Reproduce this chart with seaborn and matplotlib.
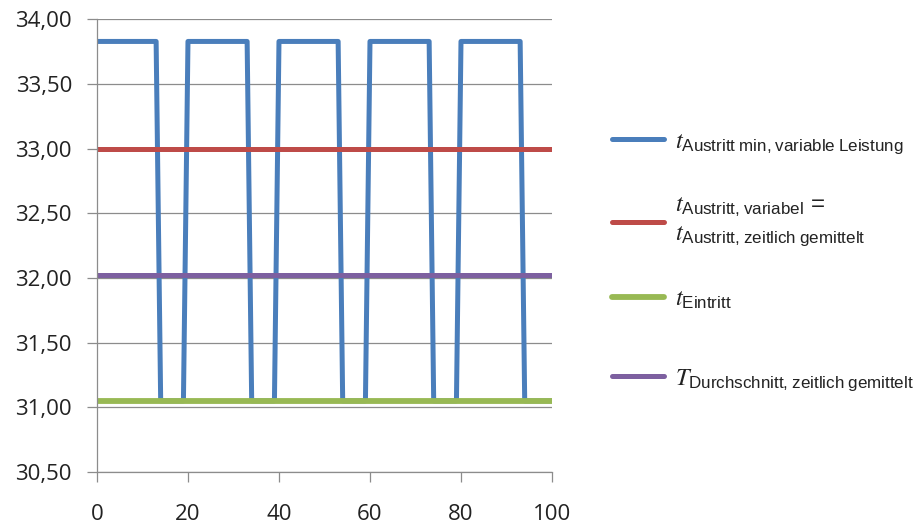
import matplotlib
matplotlib.use("Agg")
import matplotlib.pyplot as plt
import seaborn as sns
import pandas as pd
from matplotlib.font_manager import FontProperties
from matplotlib.offsetbox import TextArea

# ---- data ----
x_blue = [0, 13, 14, 19, 20, 33, 34, 39, 40, 53, 54, 59, 60, 73, 74, 79, 80, 93, 94, 100]
y_blue = [33.83, 33.83, 31.05, 31.05, 33.83, 33.83, 31.05, 31.05, 33.83, 33.83,
          31.05, 31.05, 33.83, 33.83, 31.05, 31.05, 33.83, 33.83, 31.05, 31.05]
x_const = [0, 100]
y_red = [33.00, 33.00]
y_green = [31.05, 31.05]
y_purple = [32.02, 32.02]

x_ticks = [0, 20, 40, 60, 80, 100]
y_ticks = [30.5, 31.0, 31.5, 32.0, 32.5, 33.0, 33.5, 34.0]
y_tick_labels = ["30,50", "31,00", "31,50", "32,00", "32,50", "33,00", "33,50", "34,00"]

labels = [
    r"$t_{\mathregular{Austritt\ min{,}\ variable\ Leistung}}$",
    r"$t_{\mathregular{Austritt{,}\ variabel}}$ =" + "\n" + r"$t_{\mathregular{Austritt{,}\ zeitlich\ gemittelt}}$",
    r"$t_{\mathregular{Eintritt}}$",
    r"$T_{\mathregular{Durchschnitt{,}\ zeitlich\ gemittelt}}$",
]
colors = ["#4A7EBB", "#BE4B48", "#98B954", "#7D60A0"]
widths = [3.6, 3.6, 4.2, 3.6]

series = [
    (x_blue, y_blue),
    (x_const, y_red),
    (x_const, y_green),
    (x_const, y_purple),
]

# ---- style ----
sns.set_theme(style="white")
plt.rcParams["font.family"] = ["Open Sans", "DejaVu Sans"]
plt.rcParams["mathtext.fontset"] = "stix"

fig = plt.figure(figsize=(9.2, 5.26), dpi=100)
ax = fig.add_axes([0.1054, 0.1027, 0.4946, 0.8603])

for (xs, ys), c, lw in zip(series, colors, widths):
    df = pd.DataFrame({"x": xs, "y": ys})
    sns.lineplot(data=df, x="x", y="y", ax=ax, color=c, linewidth=lw,
                 estimator=None, sort=False, legend=False)

ax.set_xlim(0, 100)
ax.set_ylim(30.5, 34.0)
ax.set_xticks(x_ticks)
ax.set_xticklabels([str(v) for v in x_ticks])
ax.set_yticks(y_ticks)
ax.set_yticklabels(y_tick_labels)
ax.set_xlabel("")
ax.set_ylabel("")

grid_c = "#8C8C8C"
ax.yaxis.grid(True, color=grid_c, linewidth=0.9)
ax.xaxis.grid(False)
ax.set_axisbelow(True)
for s in ["top", "right"]:
    ax.spines[s].set_visible(False)
for s in ["left", "bottom"]:
    ax.spines[s].set_color(grid_c)
    ax.spines[s].set_linewidth(0.9)

ax.tick_params(axis="both", which="major", left=True, bottom=True, direction="out",
               length=7, width=0.9, color=grid_c, labelcolor="#222222", labelsize=16)
ax.tick_params(axis="y", pad=11)
ax.tick_params(axis="x", pad=16)

# ---- legend (one entry per block to match spacing) ----
ypos = [0.7281, 0.5780, 0.4297, 0.2776]
handles = ax.get_lines()[:4]
prop = FontProperties(family="Liberation Sans", size=17.5)
for i, (h, lab, yp) in enumerate(zip(handles, labels, ypos)):
    leg = fig.legend([h], [lab], loc="center left", bbox_to_anchor=(0.665, yp),
                     frameon=False, borderpad=0, borderaxespad=0,
                     handlelength=2.15, handletextpad=0.45, prop=prop)
    for txt in leg.get_texts():
        txt.set_color("#222222")
        txt.set_linespacing(1.2)
    for col in leg._legend_handle_box.get_children():
        for item in col.get_children():
            for ch in item.get_children():
                if isinstance(ch, TextArea):
                    ch.set_multilinebaseline(True)

fig.savefig("out.png", dpi=100)
